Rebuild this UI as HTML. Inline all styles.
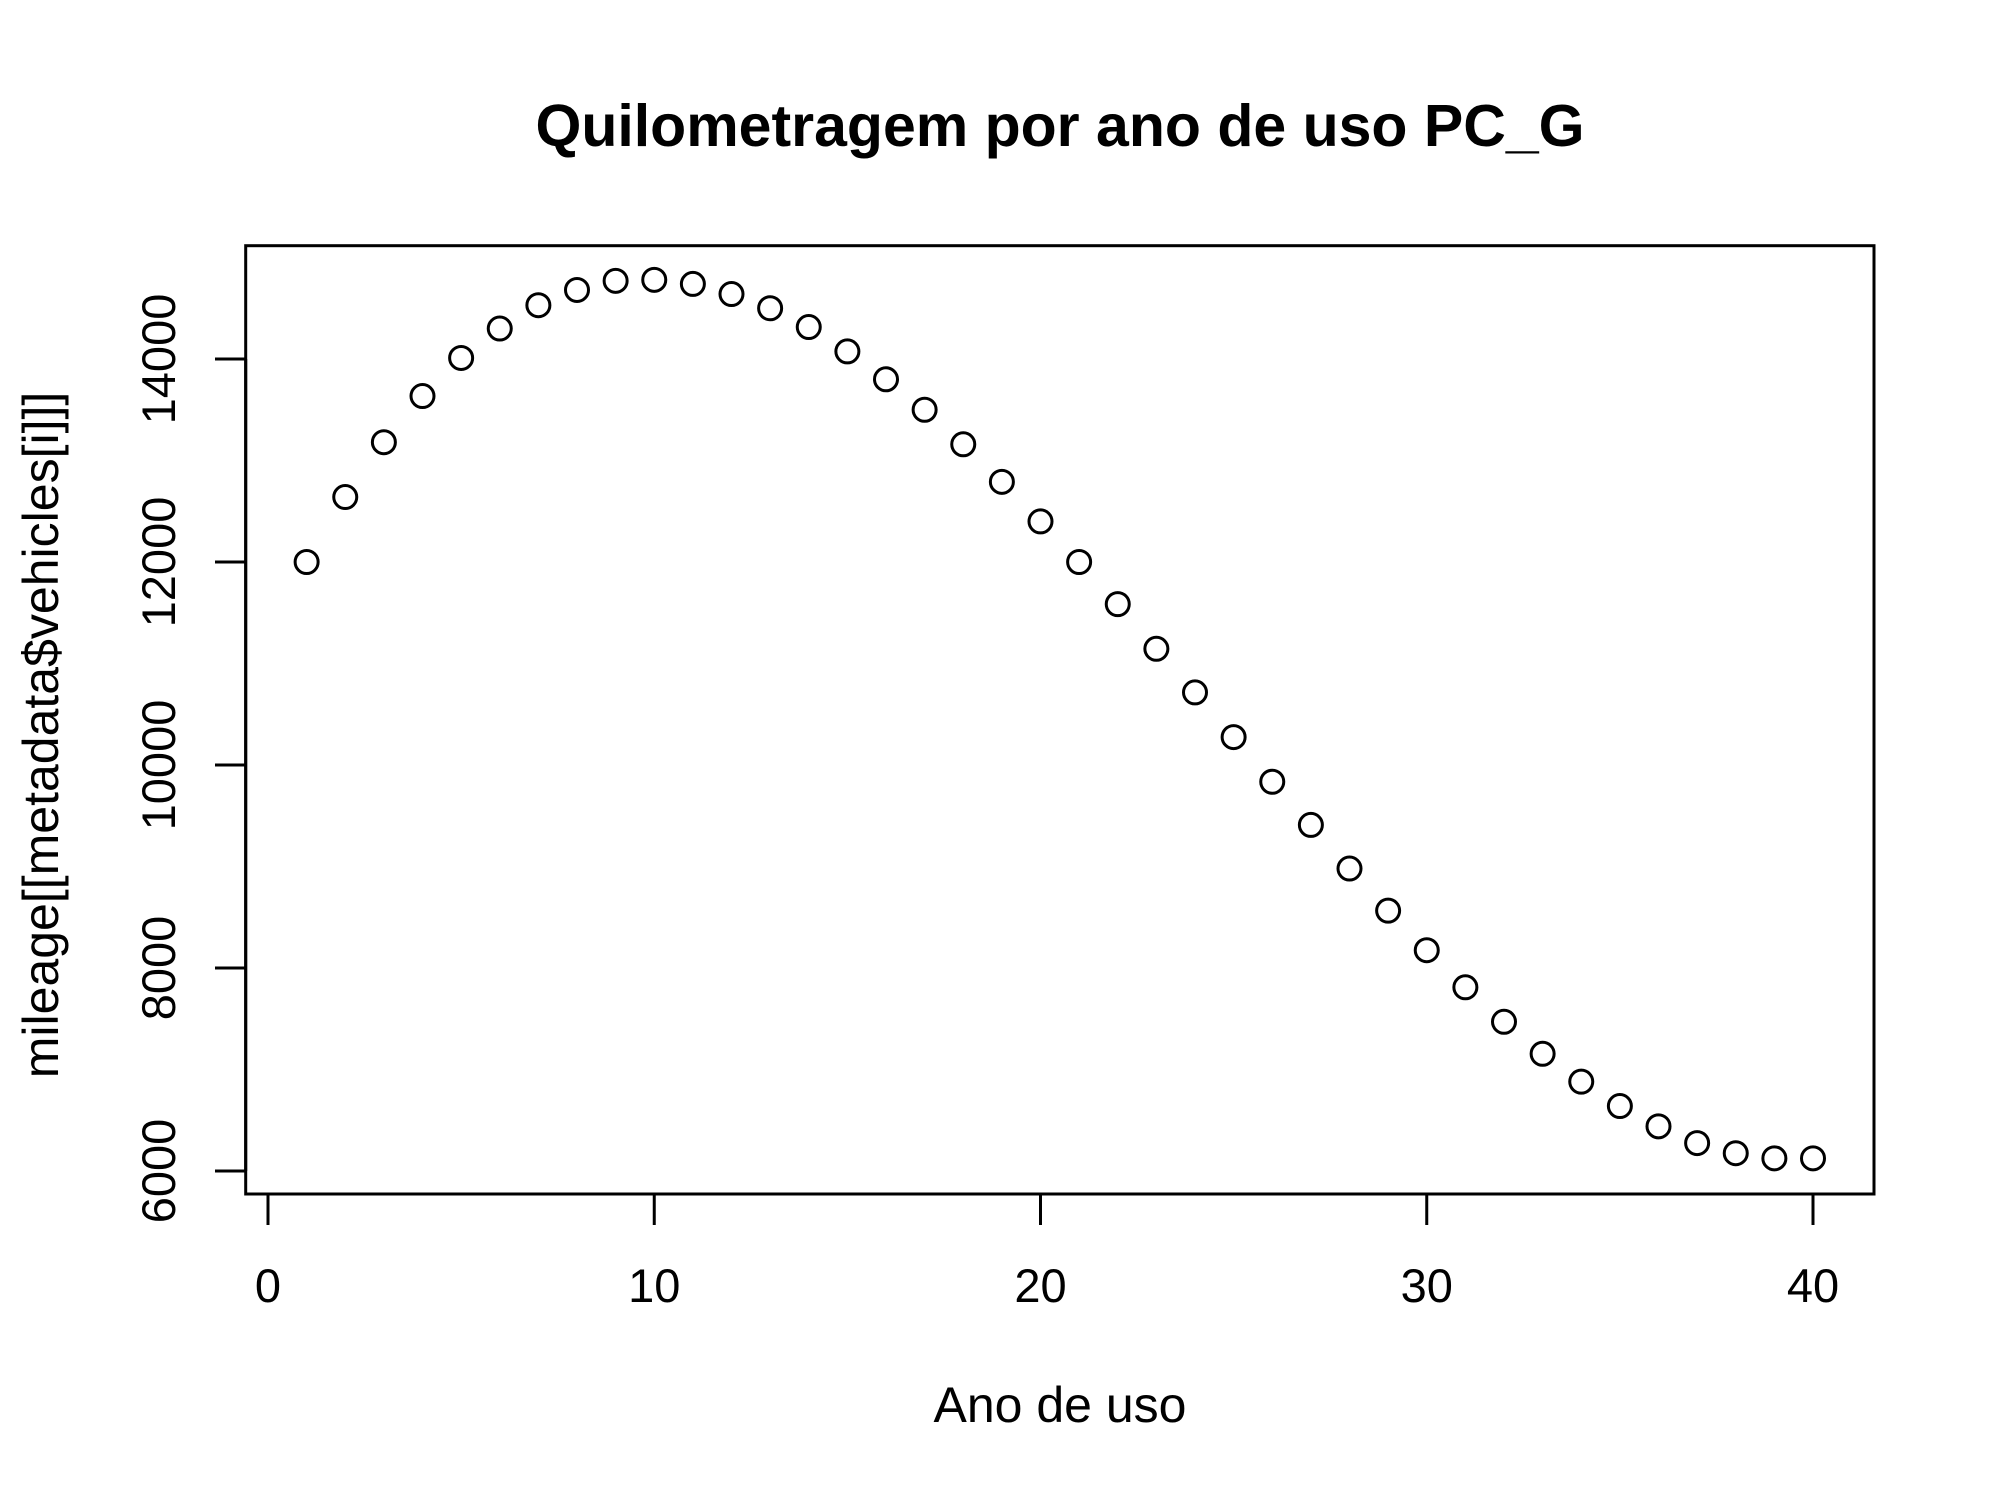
<!DOCTYPE html>
<html><head><meta charset="utf-8"><style>
html,body{margin:0;padding:0;background:#fff;}
svg{display:block;font-family:"Liberation Sans",Arial,sans-serif;}
</style></head><body>
<svg id="chart" width="2000" height="1500" viewBox="0 0 2000 1500" xmlns="http://www.w3.org/2000/svg">
<rect width="2000" height="1500" fill="#fff"/>
<text x="1060" y="146" text-anchor="middle" font-size="59" font-weight="bold">Quilometragem por ano de uso PC_G</text>
<text x="1060" y="1422" text-anchor="middle" font-size="50">Ano de uso</text>
<text transform="translate(58,735) rotate(-90)" text-anchor="middle" font-size="50">mileage[[metadata$vehicles[i]]]</text>
<rect x="245.7" y="245.7" width="1628.3" height="948.3" fill="none" stroke="#000" stroke-width="3"/>
<g id="xaxis"></g>
<g id="yaxis"></g>
<g id="points"></g>
</svg>
<script>
const years = [1,2,3,4,5,6,7,8,9,10,11,12,13,14,15,16,17,18,19,20,21,22,23,24,25,26,27,28,29,30,31,32,33,34,35,36,37,38,39,40];
const mileage = [12000,12640,13180,13635,14010,14300,14530,14680,14770,14780,14740,14640,14500,14315,14075,13800,13500,13160,12790,12400,12000,11585,11145,10715,10275,9835,9410,8980,8565,8175,7810,7470,7155,6880,6640,6440,6275,6175,6125,6125];
const xTicks = [0,10,20,30,40];
const yTicks = [6000,8000,10000,12000,14000];

const NS = "http://www.w3.org/2000/svg";
function sx(v){ return 268 + (v - 0) * (1813 - 268) / 40; }
function sy(v){ return 1171 - (v - 6000) * (1171 - 359) / 8000; }
function mk(tag, attrs, parent){ const e = document.createElementNS(NS, tag); for (const k in attrs) e.setAttribute(k, attrs[k]); parent.appendChild(e); return e; }

const xg = document.getElementById('xaxis');
mk('line', {x1: sx(xTicks[0]), x2: sx(xTicks[xTicks.length-1]), y1: 1194, y2: 1194, stroke: '#000', 'stroke-width': 3}, xg);
xTicks.forEach(t => {
  const l = mk('line', {x1: sx(t), x2: sx(t), y1: 1194, y2: 1225, stroke: '#000', 'stroke-width': 3}, xg);
  
  
  const tx = mk('text', {x: sx(t), y: 1302, 'text-anchor': 'middle', 'font-size': 47}, xg);
  tx.textContent = t;
  
  
});
const yg = document.getElementById('yaxis');
mk('line', {x1: 245.7, x2: 245.7, y1: sy(yTicks[0]), y2: sy(yTicks[yTicks.length-1]), stroke: '#000', 'stroke-width': 3}, yg);
yTicks.forEach(t => {
  const l = mk('line', {x1: 215, x2: 245.7, y1: sy(t), y2: sy(t), stroke: '#000', 'stroke-width': 3}, yg);
  
  
  const tx = mk('text', {transform: 'translate(175,' + sy(t) + ') rotate(-90)', 'text-anchor': 'middle', 'font-size': 47}, yg);
  tx.textContent = t;
  
  
});
const pg = document.getElementById('points');
years.forEach((yr, i) => {
  const c = mk('circle', {cx: sx(yr), cy: sy(mileage[i]), r: 11.5, fill: 'none', stroke: '#000', 'stroke-width': 3}, pg);
  
  
});
</script>
</body></html>
